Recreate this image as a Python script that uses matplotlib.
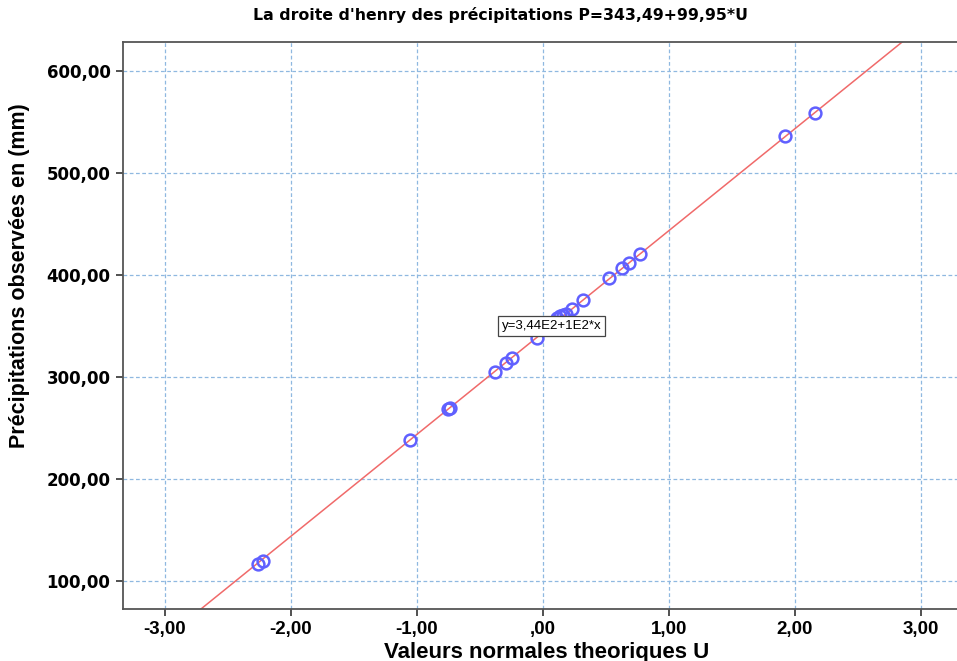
import matplotlib
matplotlib.use("Agg")
import matplotlib.pyplot as plt
import numpy as np

# Normal quantiles (U) and observed rainfall (mm)
u = [-2.262, -2.222, -1.056, -0.754, -0.738, -0.381, -0.294, -0.246, -0.048,
     0.111, 0.135, 0.159, 0.183, 0.230, 0.317, 0.524, 0.627, 0.683, 0.770,
     1.921, 2.159]
precip = [116.7, 119.6, 238.2, 268.6, 269.6, 304.9, 313.7, 318.6, 338.2,
          357.8, 359.8, 360.8, 361.8, 366.7, 375.5, 397.1, 406.9, 411.8, 420.6,
          536.3, 558.8]

# Henry line P = a + b*U
a, b = 343.49, 99.95
x_ticks = [-3, -2, -1, 0, 1, 2, 3]
y_ticks = [100, 200, 300, 400, 500, 600]


def fr_fmt(v):
    s = f"{v:.2f}".replace(".", ",")
    if s.startswith("0,"):
        s = s[1:]
    elif s.startswith("-0,"):
        s = "-" + s[2:]
    return s


fig = plt.figure(figsize=(9.57, 6.61), dpi=100)
ax = fig.add_axes([0.1285, 0.0787, 0.8774, 0.8578])

xlim = (-3.33, 3.33)
ylim = (72.5, 628.4)
ax.set_xlim(*xlim)
ax.set_ylim(*ylim)

ax.set_axisbelow(True)
ax.grid(True, color="#8fb8e0", linestyle=(0, (3, 2)), linewidth=0.9)

xs = np.array(xlim)
ax.plot(xs, a + b * xs, color="#f06a6a", linewidth=1.1, zorder=2)
ax.plot(u, precip, linestyle="none", marker="o", markersize=8.5,
        markerfacecolor="none", markeredgecolor="#6060ff",
        markeredgewidth=1.8, zorder=3)

ax.text(0.07, 350, "y=3,44E2+1E2*x", fontsize=9.5, family="Liberation Sans",
        ha="center", va="center", zorder=4,
        bbox=dict(boxstyle="square,pad=0.3", facecolor="white",
                  edgecolor="#444444", linewidth=0.9))

ax.set_xticks(x_ticks)
ax.set_yticks(y_ticks)
ax.set_xticklabels([fr_fmt(v) for v in x_ticks], fontsize=13.5,
                   fontweight="bold", family="Liberation Sans")
ax.set_yticklabels([fr_fmt(v) for v in y_ticks], fontsize=12,
                   fontweight="bold", family="DejaVu Sans")
ax.tick_params(direction="out", length=5, width=1.2, color="#333333", pad=4)
ax.tick_params(axis="x", pad=4)

for side in ("left", "bottom", "top", "right"):
    ax.spines[side].set_color("#555555")
    ax.spines[side].set_linewidth(1.3)

ax.set_xlabel("Valeurs normales theoriques U", fontsize=16, fontweight="bold",
              family="Liberation Sans")
ax.xaxis.set_label_coords(0.505, -0.058)
ax.set_ylabel("Précipitations observées en (mm)", fontsize=15.5,
              family="Liberation Sans", fontweight="bold")
ax.yaxis.set_label_coords(-0.111, 0.588)

fig.text(0.523, 0.977, "La droite d'henry des précipitations P=343,49+99,95*U",
         ha="center", va="center", fontsize=11.3, fontweight="bold",
         family="DejaVu Sans")

fig.savefig("out.png", dpi=100)
